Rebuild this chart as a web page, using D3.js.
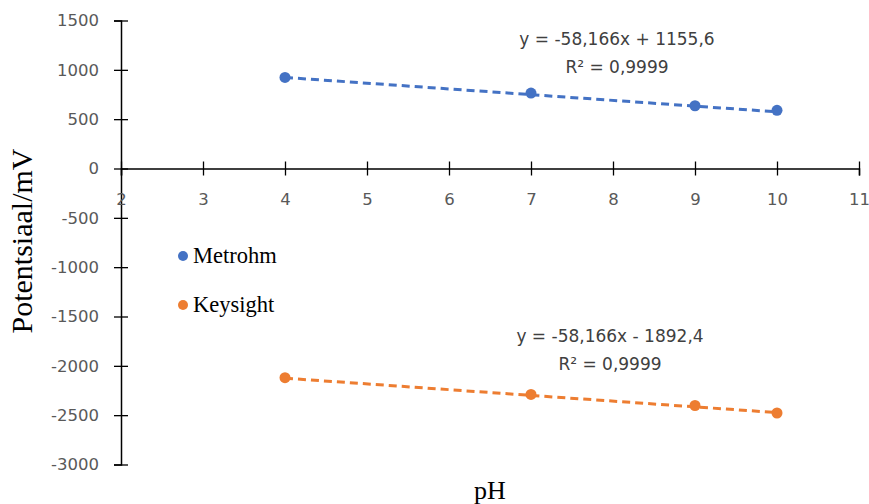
<!DOCTYPE html>
<html>
<head>
<meta charset="utf-8">
<script src="https://cdn.jsdelivr.net/npm/d3@7"></script>
<style>
  body { margin: 0; background: #fff; }
  .tick text { font-family: "DejaVu Sans", Verdana, sans-serif; font-size: 16.5px; fill: #595959; }
</style>
</head>
<body>
<div id="chart"></div>
<script>
// data
const pH = [4, 7, 9, 10]
const metrohm = [923, 765, 636, 590]
const keysight = [-2120, -2290, -2402, -2478]
const seriesNames = ['Metrohm', 'Keysight']
// trendline coefficients (slope, intercept) and labels
const fitMetrohm = [-58.166, 1155.6]
const fitKeysight = [-58.166, -1892.4]
const eqLabels = ['y = -58,166x + 1155,6', 'y = -58,166x - 1892,4']
const r2Labels = ['R² = 0,9999', 'R² = 0,9999']
const xTicks = [2, 3, 4, 5, 6, 7, 8, 9, 10, 11]
const yTicks = [1500, 1000, 500, 0, -500, -1000, -1500, -2000, -2500, -3000]

const width = 869
const height = 504
const colors = ['#4472c4', '#ed7d31']

const svg = d3.select('#chart').append('svg')
  .attr('width', width)
  .attr('height', height)

const x = d3.scaleLinear().domain([2, 11]).range([121, 859])
const y = d3.scaleLinear().domain([-3000, 1500]).range([464.5, 20.5])

// y axis
const yAxis = svg.append('g')
  .attr('transform', `translate(${x(2)},0)`)
  .call(d3.axisLeft(y).tickValues(yTicks).tickSize(7).tickPadding(15).tickFormat(d3.format('d')))
yAxis.select('.domain').attr('stroke', '#000').attr('stroke-width', 1.5)
yAxis.selectAll('.tick line').attr('x2', 7).attr('x1', -7).attr('stroke-width', 1.3)
yAxis.selectAll('.tick text').text(d => d < 0 ? '-' + Math.abs(d) : d)

// x axis through zero
const xAxis = svg.append('g')
  .attr('transform', `translate(0,${y(0)})`)
  .call(d3.axisBottom(x).tickValues(xTicks).tickSize(7).tickPadding(18))
xAxis.select('.domain').attr('stroke', '#000').attr('stroke-width', 1.5)
xAxis.selectAll('.tick line').attr('y1', -7).attr('y2', 7).attr('stroke-width', 1.3)

// trendlines
const fits = [fitMetrohm, fitKeysight]
const line = d3.line().x(d => x(d[0])).y(d => y(d[1]))
fits.forEach((f, i) => {
  const ends = [pH[0], pH[pH.length - 1]].map(v => [v, f[0] * v + f[1]])
  svg.append('path')
    .attr('d', line(ends))
    .attr('fill', 'none')
    .attr('stroke', colors[i])
    .attr('stroke-width', 3)
    .attr('stroke-dasharray', '8,5')
})

// points
const series = [metrohm, keysight]
series.forEach((vals, i) => {
  svg.append('g').selectAll('circle')
    .data(vals)
    .enter()
    .append('circle')
    .attr('cx', (d, j) => x(pH[j]))
    .attr('cy', d => y(d))
    .attr('r', 5.5)
    .attr('fill', colors[i])
})

// equation labels
const eqPos = [[617, 45], [610, 342]]
eqPos.forEach((p, i) => {
  const t = svg.append('text')
    .attr('text-anchor', 'middle')
    .attr('font-family', '"DejaVu Sans", Verdana, sans-serif')
    .attr('font-size', 17)
    .attr('fill', '#404040')
  t.append('tspan').attr('x', p[0]).attr('y', p[1]).text(eqLabels[i])
  t.append('tspan').attr('x', p[0]).attr('y', p[1] + 27.5).text(r2Labels[i])
})

// legend
const legend = svg.append('g').attr('transform', 'translate(183,256)')
seriesNames.forEach((name, i) => {
  const g = legend.append('g').attr('transform', `translate(0,${i * 49})`)
  g.append('circle').attr('r', 5).attr('fill', colors[i])
  g.append('text')
    .attr('x', 10)
    .attr('y', 7)
    .attr('font-family', '"Liberation Serif", "Times New Roman", serif')
    .attr('font-size', 22.5)
    .attr('fill', '#000')
    .text(name)
})

// axis titles
svg.append('text')
  .attr('transform', 'translate(32,241) rotate(-90)')
  .attr('text-anchor', 'middle')
  .attr('font-family', '"Liberation Serif", "Times New Roman", serif')
  .attr('font-size', 30)
  .text('Potentsiaal/mV')

svg.append('text')
  .attr('x', 490)
  .attr('y', 499)
  .attr('text-anchor', 'middle')
  .attr('font-family', '"Liberation Serif", "Times New Roman", serif')
  .attr('font-size', 26)
  .text('pH')
</script>
</body>
</html>
